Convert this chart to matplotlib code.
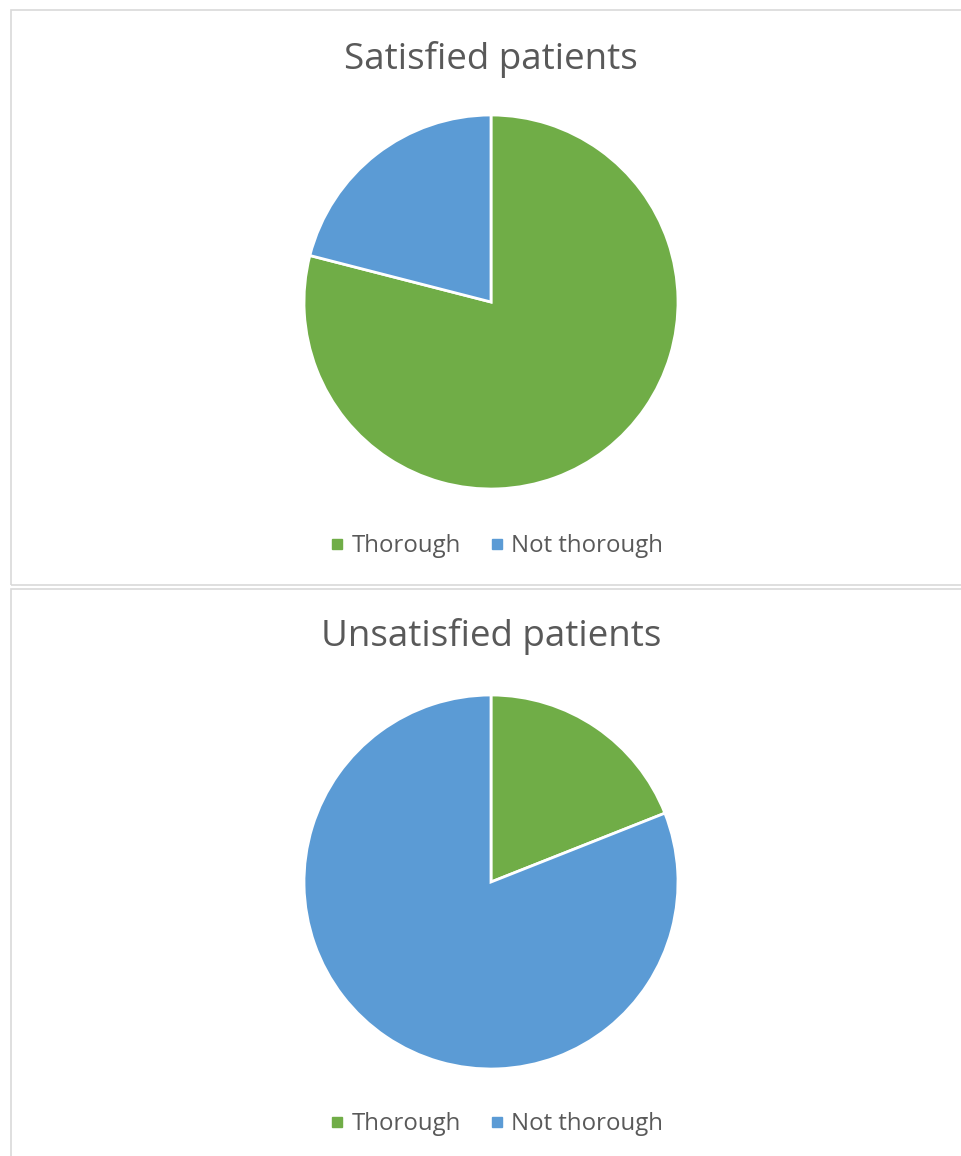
import matplotlib.pyplot as plt
from matplotlib.patches import Rectangle
from matplotlib.lines import Line2D

plt.rcParams['font.family'] = ['Open Sans', 'DejaVu Sans']

labels = ['Thorough', 'Not thorough']
satisfied = [79, 21]
unsatisfied = [19, 81]
titles = ['Satisfied patients', 'Unsatisfied patients']
colors = ['#70AD47', '#5B9BD5']
text_color = '#595959'

fig = plt.figure(figsize=(9.61, 11.56), dpi=100)

# chart area borders
fig.patches.append(Rectangle((11 / 961, 1 - 585 / 1156), 1.0, 575 / 1156,
                             transform=fig.transFigure, fill=False,
                             edgecolor='#D9D9D9', linewidth=1.2))
fig.patches.append(Rectangle((11 / 961, -0.1), 1.0, 0.1 + 567 / 1156,
                             transform=fig.transFigure, fill=False,
                             edgecolor='#D9D9D9', linewidth=1.2))

panels = [
    (satisfied, titles[0], 302, 59, 546),
    (unsatisfied, titles[1], 882, 637, 1124),
]

for values, title, cy, ty, ly in panels:
    ax = fig.add_axes([(491 - 187) / 961, 1 - (cy + 187) / 1156,
                       374 / 961, 374 / 1156])
    ax.pie(values, colors=colors, startangle=90, counterclock=False,
           wedgeprops=dict(edgecolor='white', linewidth=2))
    ax.set_xlim(-1.0, 1.0)
    ax.set_ylim(-1.0, 1.0)
    ax.set_aspect('equal')
    fig.text(491 / 961, 1 - ty / 1156, title, ha='center', va='center',
             fontsize=26.5, color=text_color)
    handles = [Line2D([], [], marker='s', linestyle='', markersize=7,
                      markerfacecolor=c, markeredgecolor=c) for c in colors]
    fig.legend(handles, labels, loc='center', ncol=2, frameon=False,
               bbox_to_anchor=(494 / 961, 1 - ly / 1156), fontsize=17.3,
               labelcolor=text_color, handletextpad=0.1, columnspacing=1.0,
               handlelength=1.0)

fig.savefig('out.png', dpi=100, facecolor='white')
